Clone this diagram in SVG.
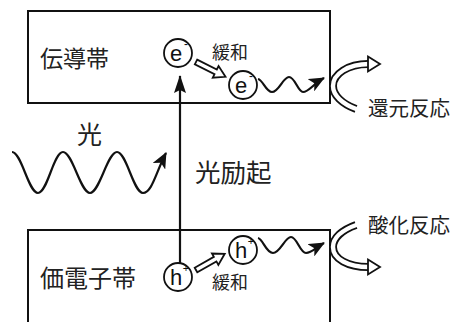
<svg xmlns="http://www.w3.org/2000/svg" width="451" height="322" viewBox="0 0 451 322">
<style>
.jp{font-family:"Noto Sans CJK JP","Noto Sans CJK SC",sans-serif;fill:#222}
.lat{font-family:"Liberation Sans",Arial,sans-serif;fill:#111}
.box{fill:none;stroke:#111;stroke-width:2}
.ln{fill:none;stroke:#111;stroke-width:2.2}
.circ{fill:#fff;stroke:#111;stroke-width:1.8}
.hol{fill:#fff;stroke:#111;stroke-width:1.8;stroke-linejoin:miter}
.band-o{fill:none;stroke:#111;stroke-width:8}
.band-i{fill:none;stroke:#fff;stroke-width:4.4}
</style>
<defs>
<marker id="stealth" viewBox="0 0 16 14" refX="15" refY="7" markerWidth="16" markerHeight="14" markerUnits="userSpaceOnUse" orient="auto">
<path d="M0,0 L16,7 L0,14 L4,7 Z" fill="#111"/>
</marker>
<marker id="vhead" viewBox="0 0 18 12" refX="17" refY="6" markerWidth="18" markerHeight="12" markerUnits="userSpaceOnUse" orient="auto">
<path d="M0,0 L18,6 L0,12 L3,6 Z" fill="#111"/>
</marker>
</defs>

<g id="conduction-band">
<rect class="box" x="28" y="11" width="302" height="92"/>
<text class="jp" x="40" y="67" font-size="23">伝導帯</text>
</g>

<g id="valence-band">
<rect class="box" x="28" y="230" width="302" height="110"/>
<text class="jp" x="40" y="287" font-size="24">価電子帯</text>
</g>

<g id="light-label">
<text class="jp" x="77" y="144" font-size="25">光</text>
</g>
<g id="excitation-label">
<text class="jp" x="195" y="182" font-size="25.5">光励起</text>
</g>

<g id="connectors">
<path class="ln" marker-end="url(#stealth)" d="M12,152 C21.5,152 28.5,193 38,193 C47.5,193 53.5,152 63,152 C72.5,152 80.5,193 90,193 C99.5,193 107.5,152 117,152 C126.5,152 133.5,193 143,193 C152,193 156,172 166,153"/>
<line class="ln" x1="180" y1="263" x2="180" y2="76" marker-end="url(#vhead)"/>
<polygon class="hol" transform="translate(196,62) rotate(26.6)" points="0,-2.6 22,-2.6 22,-6.5 33,0 22,6.5 22,2.6 0,2.6"/>
<polygon class="hol" transform="translate(196,270) rotate(-29.5)" points="0,-2.6 22,-2.6 22,-6.5 33,0 22,6.5 22,2.6 0,2.6"/>
<path class="ln" marker-end="url(#stealth)" d="M258,79 C263,80 266,92 272,92 C279,92 283,77 289,77 C295,77 298,92 303,92 C309,92 313,84 324,78"/>
<path class="ln" marker-end="url(#stealth)" d="M258,238 C263,239 266,253 273,253 C280,253 285,237 291,237 C297,237 300,253 306,253 C312,253 315,248 324,243"/>
<path class="band-o" d="M356,109 C342,104 333,95 333,86 C333,74 348,64 368,64"/>
<path class="band-i" d="M357.5,109.5 C342,104 333,95 333,86 C333,74 348,64 369,64"/>
<polygon class="hol" points="368,56.5 380,64 368,71.5"/>
<path class="band-o" d="M356,225 C342,230 333,238 333,247 C333,259 348,267 368,267"/>
<path class="band-i" d="M357.5,224.5 C342,230 333,238 333,247 C333,259 348,267 369,267"/>
<polygon class="hol" points="368,259.5 380,267 368,274.5"/>
</g>

<g id="e1">
<circle class="circ" cx="178" cy="53" r="14"/>
<text class="lat" x="176" y="61" font-size="22" text-anchor="middle">e</text>
<text class="lat" x="186" y="48" font-size="12" text-anchor="middle">-</text>
</g>
<g id="e2">
<circle class="circ" cx="243" cy="85" r="14"/>
<text class="lat" x="241" y="93" font-size="22" text-anchor="middle">e</text>
<text class="lat" x="251" y="80" font-size="12" text-anchor="middle">-</text>
</g>
<g id="h1">
<circle class="circ" cx="178" cy="277" r="14"/>
<text class="lat" x="176" y="285" font-size="22" text-anchor="middle">h</text>
<text class="lat" x="186" y="272" font-size="11" text-anchor="middle">+</text>
</g>
<g id="h2">
<circle class="circ" cx="243" cy="250" r="14"/>
<text class="lat" x="241" y="258" font-size="22" text-anchor="middle">h</text>
<text class="lat" x="251" y="245" font-size="11" text-anchor="middle">+</text>
</g>

<g id="relax-top"><text class="jp" x="212" y="59" font-size="18">緩和</text></g>
<g id="relax-bottom"><text class="jp" x="212" y="289" font-size="18">緩和</text></g>
<g id="reduction"><text class="jp" x="368" y="116" font-size="20.5">還元反応</text></g>
<g id="oxidation"><text class="jp" x="368" y="233" font-size="20.5">酸化反応</text></g>
</svg>
